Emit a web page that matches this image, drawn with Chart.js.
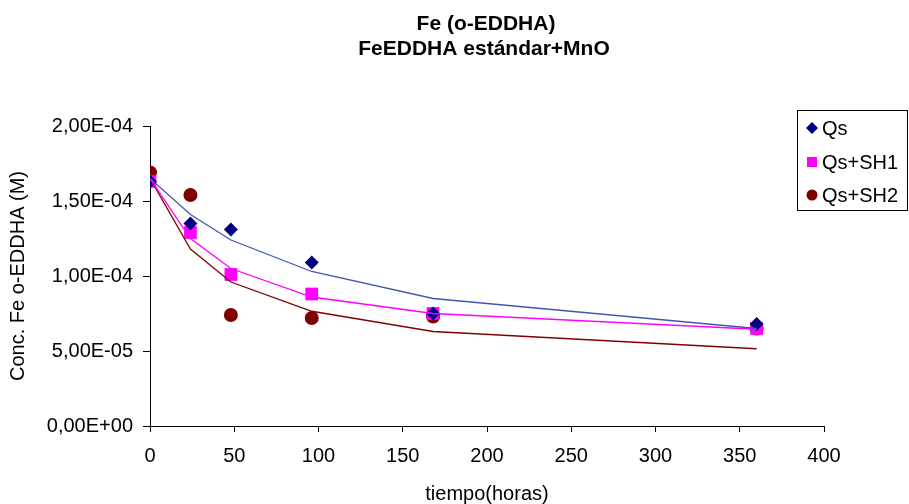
<!DOCTYPE html>
<html>
<head>
<meta charset="utf-8">
<script src="https://cdn.jsdelivr.net/npm/chart.js@4"></script>
<style>
  html, body { margin: 0; padding: 0; background: #fff; }
  #wrap { width: 909px; height: 504px; position: relative; }
</style>
</head>
<body>
<div id="wrap"><canvas id="feChart"></canvas></div>
<script>
// measured data (tiempo in horas, conc. in M)
const tiempo = [0, 24, 48, 96, 168, 360];
const qs = [1.63e-4, 1.35e-4, 1.31e-4, 1.09e-4, 7.5e-5, 6.8e-5];
const qsSH1 = [1.63e-4, 1.29e-4, 1.01e-4, 8.8e-5, 7.5e-5, 6.5e-5];
const qsSH2 = [1.69e-4, 1.54e-4, 7.4e-5, 7.2e-5, 7.3e-5, 6.5e-5];

// fitted curves
const fitQs = [1.65e-4, 1.41e-4, 1.24e-4, 1.03e-4, 8.5e-5, 6.5e-5];
const fitSH1 = [1.65e-4, 1.25e-4, 1.05e-4, 8.6e-5, 7.5e-5, 6.45e-5];
const fitSH2 = [1.65e-4, 1.18e-4, 9.6e-5, 7.65e-5, 6.3e-5, 5.15e-5];

const xTicks = [0, 50, 100, 150, 200, 250, 300, 350, 400];
const yTicks = [0, 5e-5, 1e-4, 1.5e-4, 2e-4];

const FONT = 'Liberation Sans, Arial, sans-serif';

function pts(ys) {
  return tiempo.map((t, i) => ({ x: t, y: ys[i] }));
}

function sciLabel(v) {
  if (v === 0) return '0,00E+00';
  let e = Math.floor(Math.log10(Math.abs(v)) + 1e-9);
  let m = v / Math.pow(10, e);
  let sign = e < 0 ? '-' : '+';
  let ee = String(Math.abs(e)).padStart(2, '0');
  return m.toFixed(2).replace('.', ',') + 'E' + sign + ee;
}

const titleAndLegend = {
  id: 'titleAndLegend',
  afterDraw(chart) {
    const ctx = chart.ctx;
    ctx.save();
    ctx.fillStyle = '#000';
    ctx.textAlign = 'center';
    ctx.textBaseline = 'middle';
    ctx.font = 'bold 21px ' + FONT;
    ctx.fillText('Fe (o-EDDHA)', 486, 24);
    ctx.fillText('FeEDDHA estándar+MnO', 484, 49);

    // legend box
    ctx.fillStyle = '#fff';
    ctx.fillRect(797, 110, 112, 101);
    ctx.strokeStyle = '#000';
    ctx.lineWidth = 1;
    ctx.strokeRect(797.5, 110.5, 110, 100);

    const items = chart.data.datasets.filter(d => d.inLegend);
    const ys = [128, 162, 195];
    ctx.font = '20px ' + FONT;
    ctx.textAlign = 'left';
    items.forEach((d, i) => {
      const y = ys[i];
      const x = 812;
      ctx.fillStyle = d.backgroundColor;
      ctx.beginPath();
      if (d.pointStyle === 'rectRot') {
        ctx.moveTo(x, y - 6); ctx.lineTo(x + 6, y); ctx.lineTo(x, y + 6); ctx.lineTo(x - 6, y);
        ctx.closePath();
      } else if (d.pointStyle === 'rect') {
        ctx.rect(x - 5, y - 5, 10, 10);
      } else {
        ctx.arc(x, y, 5.5, 0, Math.PI * 2);
      }
      ctx.fill();
      ctx.fillStyle = '#000';
      ctx.fillText(d.label, 822, y + 1);
    });
    ctx.restore();
  }
};

const ctx = document.getElementById('feChart').getContext('2d');
const feChart = new Chart(ctx, {
  type: 'scatter',
  data: {
    datasets: [
      {
        label: 'fit Qs',
        data: pts(fitQs),
        showLine: true,
        borderColor: '#4455b0',
        borderWidth: 1.3,
        pointRadius: 0,
        fill: false,
      },
      {
        label: 'fit Qs+SH1',
        data: pts(fitSH1),
        showLine: true,
        borderColor: '#ff00ff',
        borderWidth: 1.3,
        pointRadius: 0,
        fill: false,
      },
      {
        label: 'fit Qs+SH2',
        data: pts(fitSH2),
        showLine: true,
        borderColor: '#800000',
        borderWidth: 1.3,
        pointRadius: 0,
        fill: false,
      },
      {
        label: 'Qs',
        inLegend: true,
        data: pts(qs),
        pointStyle: 'rectRot',
        pointRadius: 7,
        backgroundColor: '#000080',
        borderColor: '#000080',
        borderWidth: 0,
      },
      {
        label: 'Qs+SH1',
        inLegend: true,
        data: pts(qsSH1),
        pointStyle: 'rect',
        pointRadius: 9,
        backgroundColor: '#ff00ff',
        borderColor: '#ff00ff',
        borderWidth: 0,
      },
      {
        label: 'Qs+SH2',
        inLegend: true,
        data: pts(qsSH2),
        pointStyle: 'circle',
        pointRadius: 7,
        backgroundColor: '#800000',
        borderColor: '#800000',
        borderWidth: 0,
      },
    ],
  },
  options: {
    responsive: true,
    maintainAspectRatio: false,
    animation: false,
    layout: { padding: { top: 126, right: 85, bottom: 0, left: 0 } },
    plugins: {
      legend: { display: false },
      title: { display: false },
      tooltip: { enabled: false },
    },
    scales: {
      x: {
        type: 'linear',
        min: 0,
        max: 400,
        afterBuildTicks: (s) => { s.ticks = xTicks.map(v => ({ value: v })); },
        afterFit: (s) => { s.height = 78; },
        border: { color: '#000', width: 1 },
        grid: { drawOnChartArea: false, drawTicks: true, tickLength: 6, color: '#000' },
        ticks: { color: '#000', font: { family: FONT, size: 20 }, padding: 12, maxRotation: 0 },
        title: { display: true, text: 'tiempo(horas)', color: '#000', font: { family: FONT, size: 20 }, padding: { top: 0, bottom: -2 } },
      },
      y: {
        min: 0,
        max: 2e-4,
        afterBuildTicks: (s) => { s.ticks = yTicks.map(v => ({ value: v })); },
        afterFit: (s) => { s.width = 150; },
        border: { color: '#000', width: 1 },
        grid: { drawOnChartArea: false, drawTicks: true, tickLength: 7, color: '#000' },
        ticks: {
          color: '#000',
          font: { family: FONT, size: 20 },
          padding: 10,
          callback: (v) => sciLabel(v),
        },
        title: { display: true, text: 'Conc. Fe o-EDDHA (M)', color: '#000', font: { family: FONT, size: 20 }, padding: { top: 6, bottom: 0 } },
      },
    },
  },
  plugins: [titleAndLegend],
});
</script>
</body>
</html>
